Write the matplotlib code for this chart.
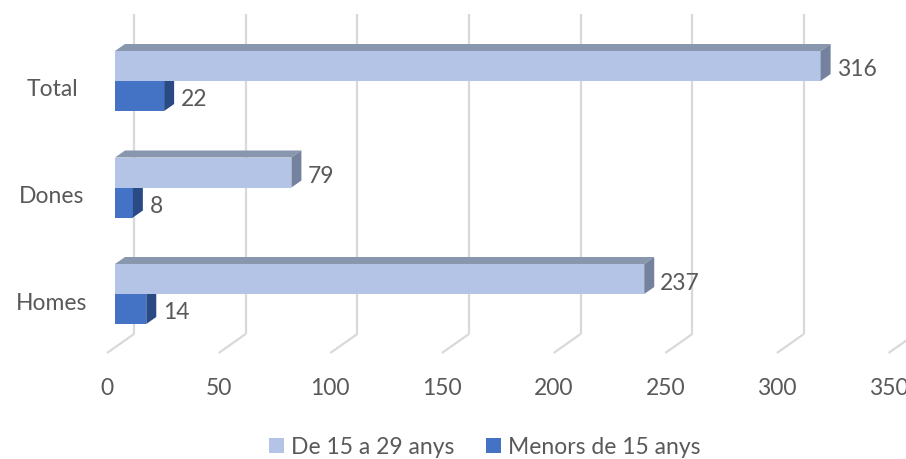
import matplotlib
matplotlib.use("Agg")
import matplotlib.pyplot as plt
from matplotlib.patches import Polygon, Patch

categories = ["Total", "Dones", "Homes"]
series_names = ["De 15 a 29 anys", "Menors de 15 anys"]
de15a29 = [316, 79, 237]
menors15 = [22, 8, 14]
xticks = [0, 50, 100, 150, 200, 250, 300, 350]

W, H = 906, 460
fig = plt.figure(figsize=(W / 100, H / 100), dpi=100)
ax = fig.add_axes([0, 0, 1, 1])

# pixel-based scale of the plotting area
px_per_val = 2.233
x0_px = 115.0
px_per_cat = 106.5
y0_px = 82.0
ax.set_xlim(-x0_px / px_per_val, (W - x0_px) / px_per_val)
ax.set_ylim((H - y0_px) / px_per_cat, -y0_px / px_per_cat)
ax.axis("off")

def dx(px):
    return px / px_per_val

def dy(px):
    return px / px_per_cat

font = "Lato"
txt_color = "#595959"
grid_color = "#D9D9D9"
fs = 16.5

bar_h = dy(30)
bar_ddx, bar_ddy = dx(10), -dy(7)
wall_back = dx(19)
floor_front = -dx(8)
floor_back_y = dy(335 - y0_px)
floor_front_y = dy(354 - y0_px)
grid_top_y = dy(15 - y0_px)

# back wall gridlines and floor lines
for t in xticks:
    ax.plot([t + wall_back, t + wall_back], [grid_top_y, floor_back_y],
            color=grid_color, lw=1.6, zorder=0, solid_capstyle="butt")
    ax.plot([t + wall_back, t + floor_front], [floor_back_y, floor_front_y],
            color=grid_color, lw=1.6, zorder=0, solid_capstyle="butt")
    ax.text(t + floor_front, dy(389 - y0_px), str(t), ha="center", va="center",
            fontsize=fs, color=txt_color, family=font)

light = dict(front="#B4C4E6", top="#8896AE", side="#74829E")
dark = dict(front="#4472C4", top="#2F5597", side="#2A4A85")

def draw_bar(v, top, colors, z):
    b = top + bar_h
    ax.barh(top, v, left=0, height=bar_h, align="edge", color=colors["front"],
            edgecolor="none", zorder=z)
    topface = Polygon([(0, top), (v, top), (v + bar_ddx, top + bar_ddy),
                       (bar_ddx, top + bar_ddy)], closed=True,
                      facecolor=colors["top"], edgecolor="none", zorder=z)
    side = Polygon([(v, top), (v + bar_ddx, top + bar_ddy),
                    (v + bar_ddx, b + bar_ddy), (v, b)], closed=True,
                   facecolor=colors["side"], edgecolor="none", zorder=z)
    ax.add_patch(topface)
    ax.add_patch(side)

for i, cat in enumerate(categories):
    # dark (lower) bar first, light bar on top of it
    draw_bar(menors15[i], i, dark, 2 + i * 0.1)
    draw_bar(de15a29[i], i - bar_h, light, 2.05 + i * 0.1)
    ax.text(de15a29[i] + bar_ddx + dx(6), i - bar_h / 2 + dy(3), str(de15a29[i]),
            ha="left", va="center", fontsize=fs, color=txt_color, family=font, zorder=5)
    ax.text(menors15[i] + bar_ddx + dx(7), i + bar_h / 2 + dy(3), str(menors15[i]),
            ha="left", va="center", fontsize=fs, color=txt_color, family=font, zorder=5)
    ax.text(dx(52 - x0_px), i + dy(8), cat, ha="center", va="center",
            fontsize=fs, color=txt_color, family=font)

handles = [Patch(facecolor=light["front"], edgecolor="none"),
           Patch(facecolor=dark["front"], edgecolor="none")]
fig.legend(handles, series_names, loc="center", ncol=2,
           bbox_to_anchor=(485 / W, 1 - 448 / H), frameon=False,
           prop={"family": font, "size": fs}, labelcolor=txt_color,
           handlelength=0.65, handleheight=0.65, handletextpad=0.3, columnspacing=1.4)

fig.savefig("out.png", dpi=100)
